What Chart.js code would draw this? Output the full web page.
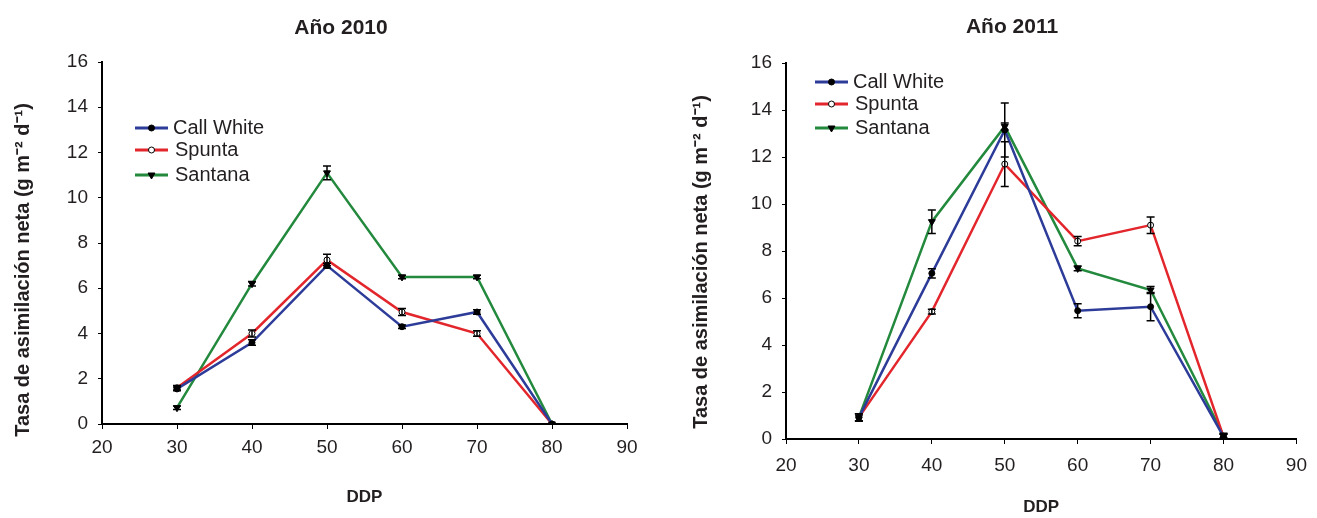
<!DOCTYPE html>
<html lang="es">
<head>
<meta charset="UTF-8">
<title>Tasa de asimilación neta</title>
<script src="https://cdn.jsdelivr.net/npm/chart.js"></script>
<style>
  body { margin: 0; background: #fff; }
  .wrap { position: relative; width: 1317px; height: 518px; }
  .box { position: absolute; top: 0; height: 518px; }
</style>
</head>
<body>
<div class="wrap">
  <div class="box" style="left:0;width:660px"><canvas id="c2010"></canvas></div>
  <div class="box" style="left:660px;width:657px"><canvas id="c2011"></canvas></div>
</div>
<script>
// days after planting (DDP)
const days = [30, 40, 50, 60, 70, 80];
const xTicks = [20, 30, 40, 50, 60, 70, 80, 90];
const yTicks = [0, 2, 4, 6, 8, 10, 12, 14, 16];
const varieties = ['Call White', 'Spunta', 'Santana'];
const yLabel = 'Tasa de asimilación neta (g m⁻² d⁻¹)';

// Año 2010
const callWhite2010 = [1.55, 3.6, 7.0, 4.3, 4.95, 0];
const spunta2010    = [1.6, 4.0, 7.25, 4.95, 4.0, 0];
const santana2010   = [0.72, 6.2, 11.1, 6.5, 6.5, 0];
const callWhiteErr2010 = [0.08, 0.12, 0.1, 0.08, 0.1, 0];
const spuntaErr2010    = [0.1, 0.15, 0.25, 0.15, 0.12, 0];
const santanaErr2010   = [0.08, 0.1, 0.3, 0.08, 0.08, 0];

// Año 2011
const callWhite2011 = [0.92, 7.05, 13.15, 5.46, 5.63, 0.1];
const spunta2011    = [0.92, 5.42, 11.7, 8.42, 9.1, 0.1];
const santana2011   = [0.92, 9.25, 13.3, 7.26, 6.34, 0.15];
const callWhiteErr2011 = [0.15, 0.2, 1.15, 0.3, 0.6, 0.1];
const spuntaErr2011    = [0.15, 0.1, 0.95, 0.2, 0.35, 0.1];
const santanaErr2011   = [0.15, 0.5, 0.15, 0.1, 0.15, 0.1];

const colors = ['#2d3c99', '#e2262c', '#23893d'];
const txt = '#231f20';
const FONT = 'Arial, "Liberation Sans", sans-serif';

const markers = [
  { pointStyle: 'circle', pointRadius: 3, pointRotation: 0, pointBackgroundColor: '#000', pointBorderColor: '#000', pointBorderWidth: 1 },
  { pointStyle: 'circle', pointRadius: 3, pointRotation: 0, pointBackgroundColor: '#fff', pointBorderColor: '#000', pointBorderWidth: 1 },
  { pointStyle: 'triangle', pointRadius: 4, pointRotation: 180, pointBackgroundColor: '#000', pointBorderColor: '#000', pointBorderWidth: 1 }
];

// vertical error bars with caps
const errorBars = {
  id: 'errorBars',
  afterDatasetsDraw(chart) {
    const { ctx, scales: { x, y } } = chart;
    ctx.save();
    ctx.strokeStyle = '#000';
    ctx.lineWidth = 1.5;
    chart.data.datasets.forEach(ds => {
      ds.data.forEach((p, i) => {
        const e = ds.errors[i];
        if (!e) return;
        const px = x.getPixelForValue(p.x);
        const top = y.getPixelForValue(p.y + e);
        const bot = y.getPixelForValue(p.y - e);
        ctx.beginPath();
        ctx.moveTo(px, top); ctx.lineTo(px, bot);
        ctx.moveTo(px - 4, top); ctx.lineTo(px + 4, top);
        ctx.moveTo(px - 4, bot); ctx.lineTo(px + 4, bot);
        ctx.stroke();
      });
    });
    ctx.restore();
  }
};

// legend drawn inside the plot + rotated y title
const extras = {
  id: 'extras',
  afterDraw(chart, args, opts) {
    const { ctx } = chart;
    ctx.save();
    const lg = opts.legend;
    chart.data.datasets.forEach((ds, i) => {
      const yy = lg.y + lg.gaps[i];
      ctx.strokeStyle = ds.borderColor;
      ctx.lineWidth = 3;
      ctx.beginPath();
      ctx.moveTo(lg.x, yy); ctx.lineTo(lg.x + 33, yy);
      ctx.stroke();
      const m = markers[i];
      ctx.fillStyle = m.pointBackgroundColor;
      ctx.strokeStyle = m.pointBorderColor;
      ctx.lineWidth = 1;
      Chart.helpers.drawPoint(ctx, { pointStyle: m.pointStyle, radius: m.pointRadius, rotation: m.pointRotation, borderWidth: 1 }, lg.x + 16.5, yy);
      ctx.fillStyle = txt;
      ctx.font = '20px ' + FONT;
      ctx.textBaseline = 'middle';
      ctx.textAlign = 'left';
      ctx.fillText(ds.label, lg.x + 38 + (i ? 2 : 0), yy);
    });
    ctx.translate(opts.yTitle.x, opts.yTitle.y);
    ctx.rotate(-Math.PI / 2);
    ctx.font = 'bold 20px ' + FONT;
    ctx.textAlign = 'center';
    ctx.textBaseline = 'middle';
    ctx.fillStyle = txt;
    ctx.fillText(yLabel, 0, 0);
    ctx.restore();
  }
};

function makeChart(id, title, series, errs, cfg) {
  const datasets = varieties.map((name, i) => Object.assign({
    label: name,
    data: days.map((d, k) => ({ x: d, y: series[i][k] })),
    errors: errs[i],
    borderColor: colors[i],
    borderWidth: 2.5,
    tension: 0
  }, markers[i]));

  new Chart(document.getElementById(id), {
    type: 'line',
    data: { datasets },
    plugins: [errorBars, extras],
    options: {
      responsive: true,
      maintainAspectRatio: false,
      animation: false,
      layout: { padding: { left: cfg.padLeft, right: cfg.padRight, top: 0, bottom: 0 } },
      plugins: {
        legend: { display: false },
        tooltip: { enabled: false },
        title: {
          display: true,
          text: title,
          color: txt,
          font: { family: FONT, size: 21, weight: 'bold' },
          padding: { top: cfg.titleTop, bottom: cfg.titleBottom }
        },
        extras: { legend: cfg.legend, yTitle: cfg.yTitle }
      },
      scales: {
        x: {
          type: 'linear',
          min: 20, max: 90,
          afterBuildTicks: s => { s.ticks = xTicks.map(v => ({ value: v })); },
          afterFit: s => { s.height = cfg.xHeight; },
          border: { color: '#000', width: 2 },
          grid: { drawOnChartArea: false, drawTicks: true, tickLength: 5, color: '#000' },
          ticks: { color: txt, font: { family: FONT, size: 19 }, padding: cfg.xPad, maxRotation: 0 },
          title: {
            display: true, text: 'DDP', color: txt,
            font: { family: FONT, size: 17, weight: 'bold' },
            padding: { top: 0, bottom: cfg.xTitlePad }
          }
        },
        y: {
          min: 0, max: 16,
          afterBuildTicks: s => { s.ticks = yTicks.map(v => ({ value: v })); },
          afterFit: s => { s.width = cfg.yWidth; },
          border: { color: '#000', width: 2 },
          grid: { drawOnChartArea: false, drawTicks: true, tickLength: 4, color: '#000' },
          ticks: { color: txt, font: { family: FONT, size: 19 }, padding: 10 }
        }
      }
    }
  });
}

makeChart('c2010', 'Año 2010',
  [callWhite2010, spunta2010, santana2010],
  [callWhiteErr2010, spuntaErr2010, santanaErr2010],
  { padLeft: 55, padRight: 33, xHeight: 94, yWidth: 47, xPad: 7, xTitlePad: 10.8,
    titleTop: 15.4, titleBottom: 21.4,
    legend: { x: 135, y: 128, gaps: [0, 22, 47] }, yTitle: { x: 23, y: 270 } });

makeChart('c2011', 'Año 2011',
  [callWhite2011, spunta2011, santana2011],
  [callWhiteErr2011, spuntaErr2011, santanaErr2011],
  { padLeft: 59, padRight: 12, xHeight: 79, yWidth: 67, xPad: 10, xTitlePad: 0,
    titleTop: 14.4, titleBottom: 23.4,
    legend: { x: 155, y: 82, gaps: [0, 22, 46] }, yTitle: { x: 41, y: 262 } });
</script>
</body>
</html>
